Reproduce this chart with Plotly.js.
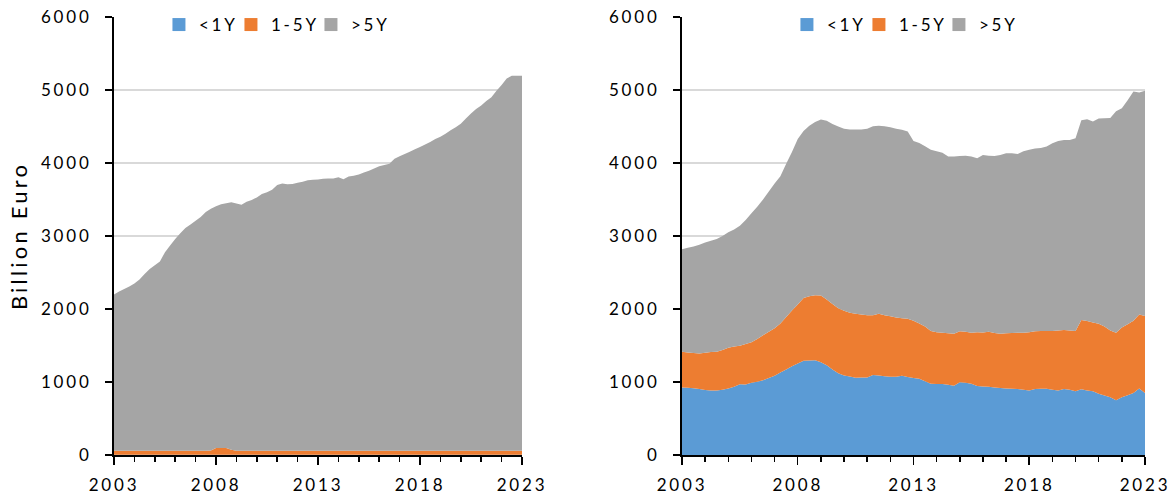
<!DOCTYPE html>
<html><head><meta charset="utf-8">
<script src="https://cdn.plot.ly/plotly-3.0.1.min.js"></script>
<style>
html,body{margin:0;padding:0;background:#fff;}
#chart{width:1173px;height:499px;}
svg text{letter-spacing:2.8px;}
svg text.ytitle{letter-spacing:3.2px;}
</style></head><body><div id="chart"></div><script>
// Quarterly time points (decimal years)
const years = [
  2003,2003.25,2003.5,2003.75, 2004,2004.25,2004.5,2004.75, 2005,2005.25,2005.5,2005.75,
  2006,2006.25,2006.5,2006.75, 2007,2007.25,2007.5,2007.75, 2008,2008.25,2008.5,2008.75,
  2009,2009.25,2009.5,2009.75, 2010,2010.25,2010.5,2010.75, 2011,2011.25,2011.5,2011.75,
  2012,2012.25,2012.5,2012.75, 2013,2013.25,2013.5,2013.75, 2014,2014.25,2014.5,2014.75,
  2015,2015.25,2015.5,2015.75, 2016,2016.25,2016.5,2016.75, 2017,2017.25,2017.5,2017.75,
  2018,2018.25,2018.5,2018.75, 2019,2019.25,2019.5,2019.75, 2020,2020.25,2020.5,2020.75,
  2021,2021.25,2021.5,2021.75, 2022,2022.25,2022.5,2022.75, 2023
];
const seriesNames = ['<1Y', '1-5Y', '>5Y'];
const xTickVals = [2003, 2008, 2013, 2018, 2023];
const yTickVals = [0, 1000, 2000, 3000, 4000, 5000, 6000];

// Left chart (billion euro)
const leftLt1 = [
  2,2,2,2, 2,2,2,2, 2,2,2,2, 2,2,2,2, 2,2,2,2, 2,2,2,2, 2,2,2,2, 2,2,2,2, 2,2,2,2, 2,2,2,2,
  2,2,2,2, 2,2,2,2, 2,2,2,2, 2,2,2,2, 2,2,2,2, 2,2,2,2, 2,2,2,2, 2,2,2,2, 2,2,2,2, 2,2,2,2, 2
];
const left1to5 = [
  55,55,55,55, 55,55,55,55, 55,55,55,55, 55,55,55,55, 55,55,55,60, 95,95,95,70,
  55,55,55,55, 55,55,55,55, 55,55,55,55, 55,55,55,55, 55,55,55,55, 55,55,55,55,
  55,55,55,55, 55,55,55,55, 55,55,55,55, 55,55,55,55, 55,55,55,55, 55,55,55,55,
  55,55,55,55, 55,55,55,55, 55
];
const leftGt5 = [
  2142,2182,2217,2252, 2292,2347,2422,2492, 2542,2592,2722,2812, 2902,2982,3052,3102,
  3152,3202,3272,3312, 3312,3337,3352,3392, 3387,3372,3412,3437, 3472,3517,3542,3577,
  3642,3662,3652,3657, 3672,3687,3707,3712, 3717,3727,3732,3732, 3747,3722,3757,3767,
  3787,3812,3837,3867, 3897,3917,3932,4002, 4037,4067,4097,4132, 4162,4197,4232,4272,
  4302,4342,4392,4432, 4482,4552,4622,4682, 4732,4792,4842,4932, 5012,5102,5137,5137, 5137
];

// Right chart (billion euro)
const rightLt1 = [
  925,920,915,905, 890,882,885,895, 910,935,970,965, 990,1005,1025,1055,
  1085,1130,1170,1215, 1255,1290,1296,1298, 1270,1230,1170,1120, 1090,1075,1058,1060,
  1062,1095,1090,1080, 1072,1072,1085,1070, 1055,1045,1010,975, 972,972,962,950,
  995,990,975,945, 938,936,925,918, 912,908,904,895, 885,905,908,908,
  895,882,905,895, 875,900,885,872, 840,815,790,750, 790,820,850,910, 850
];
const right1to5 = [
  488,485,483,487, 510,528,528,545, 558,550,525,555, 555,585,615,635,
  650,670,720,765, 805,860,879,892, 915,900,900,890, 885,875,877,865,
  853,820,845,835, 828,813,790,795, 785,755,750,725, 708,703,706,710,
  700,700,700,735, 740,752,745,742, 756,764,770,779, 795,790,789,789,
  805,823,806,810, 825,949,950,943, 958,945,915,925, 955,970,990,1015, 1055
];
const rightGt5 = [
  1407,1435,1457,1488, 1510,1525,1547,1560, 1582,1605,1645,1700, 1765,1810,1860,1920,
  1985,2020,2100,2170, 2270,2290,2335,2370, 2410,2450,2465,2490, 2495,2510,2525,2535,
  2555,2590,2575,2590, 2590,2585,2580,2565, 2460,2475,2470,2480, 2480,2465,2422,2430,
  2400,2410,2415,2385, 2432,2412,2425,2450, 2467,2463,2451,2486, 2500,2505,2508,2528,
  2570,2595,2604,2610, 2640,2736,2765,2755, 2812,2852,2910,3035, 3005,3070,3140,3040, 3085
];

const colors = ['#5b9bd5', '#ed7d31', '#a5a5a5'];
const FONT = 'Lato, "Open Sans", sans-serif';
const legendWidths = [27, 35, 35];

function area(y, i, xa, ya, grp) {
  return {type:'scatter', x:years, y:y, name:seriesNames[i], mode:'none',
    stackgroup:grp, fillcolor:colors[i], line:{width:0, shape:'linear'},
    showlegend:false, xaxis:xa, yaxis:ya, hoverinfo:'skip'};
}
function legendItem(i, legend, xa, ya) {
  return {type:'scatter', x:[null], y:[null], mode:'markers', name:seriesNames[i],
    marker:{symbol:'square', size:13, color:colors[i]}, showlegend:true,
    legend:legend, legendwidth:legendWidths[i], xaxis:xa, yaxis:ya, hoverinfo:'skip'};
}

const data = [
  area(leftLt1, 0, 'x', 'y', 'L'), area(left1to5, 1, 'x', 'y', 'L'), area(leftGt5, 2, 'x', 'y', 'L'),
  area(rightLt1, 0, 'x2', 'y2', 'R'), area(right1to5, 1, 'x2', 'y2', 'R'), area(rightGt5, 2, 'x2', 'y2', 'R'),
  legendItem(0, 'legend', 'x', 'y'), legendItem(1, 'legend', 'x', 'y'), legendItem(2, 'legend', 'x', 'y'),
  legendItem(0, 'legend2', 'x2', 'y2'), legendItem(1, 'legend2', 'x2', 'y2'), legendItem(2, 'legend2', 'x2', 'y2')
];

const tickFont = {family:FONT, size:17, color:'#000'};
const yDomainTop = 438 / 455;
function xAxis(domain, anchor) {
  return {domain:domain, anchor:anchor, range:[2003, 2023], tickmode:'array', tickvals:xTickVals,
    ticks:'outside', ticklen:8, tickwidth:1.5, tickcolor:'#000',
    showline:true, linecolor:'#000', linewidth:2, showgrid:false, zeroline:false,
    minor:{dtick:1, tick0:2003, ticks:'outside', ticklen:5, tickwidth:1.5, tickcolor:'#000', showgrid:false},
    tickfont:tickFont, ticklabelstandoff:6, fixedrange:true, automargin:false};
}
function yAxis(anchor, title) {
  const a = {domain:[0, yDomainTop], anchor:anchor, range:[0, 6000], tickmode:'array', tickvals:yTickVals,
    ticks:'outside', ticklen:7, tickwidth:1.5, tickcolor:'#000',
    showline:true, linecolor:'#000', linewidth:2, showgrid:true, gridcolor:'#d9d9d9', gridwidth:1.5,
    zeroline:false, tickfont:tickFont, ticklabelstandoff:10, fixedrange:true, automargin:false};
  if (title) a.title = {text:title, font:{family:FONT, size:22, color:'#000'}, standoff:7};
  return a;
}

const layout = {
  width:1173, height:499,
  margin:{l:114, r:28, t:0, b:44, autoexpand:false},
  paper_bgcolor:'#fff', plot_bgcolor:'#fff',
  font:{family:FONT, size:17, color:'#000'},
  xaxis:xAxis([0, 0.39573], 'y'),
  yaxis:yAxis('x', 'Billion Euro'),
  xaxis2:xAxis([0.55092, 1], 'y2'),
  yaxis2:yAxis('x2', null),
  legend:{orientation:'h', x:0.0436, xanchor:'left', y:(455 - 25) / 455, yanchor:'middle',
    bgcolor:'rgba(0,0,0,0)', font:{family:FONT, size:17, color:'#000'}, traceorder:'normal'},
  legend2:{orientation:'h', x:0.6527, xanchor:'left', y:(455 - 25) / 455, yanchor:'middle',
    bgcolor:'rgba(0,0,0,0)', font:{family:FONT, size:17, color:'#000'}, traceorder:'normal'},
  showlegend:true, hovermode:false
};

Plotly.newPlot('chart', data, layout, {staticPlot:true, displayModeBar:false});
</script></body></html>
